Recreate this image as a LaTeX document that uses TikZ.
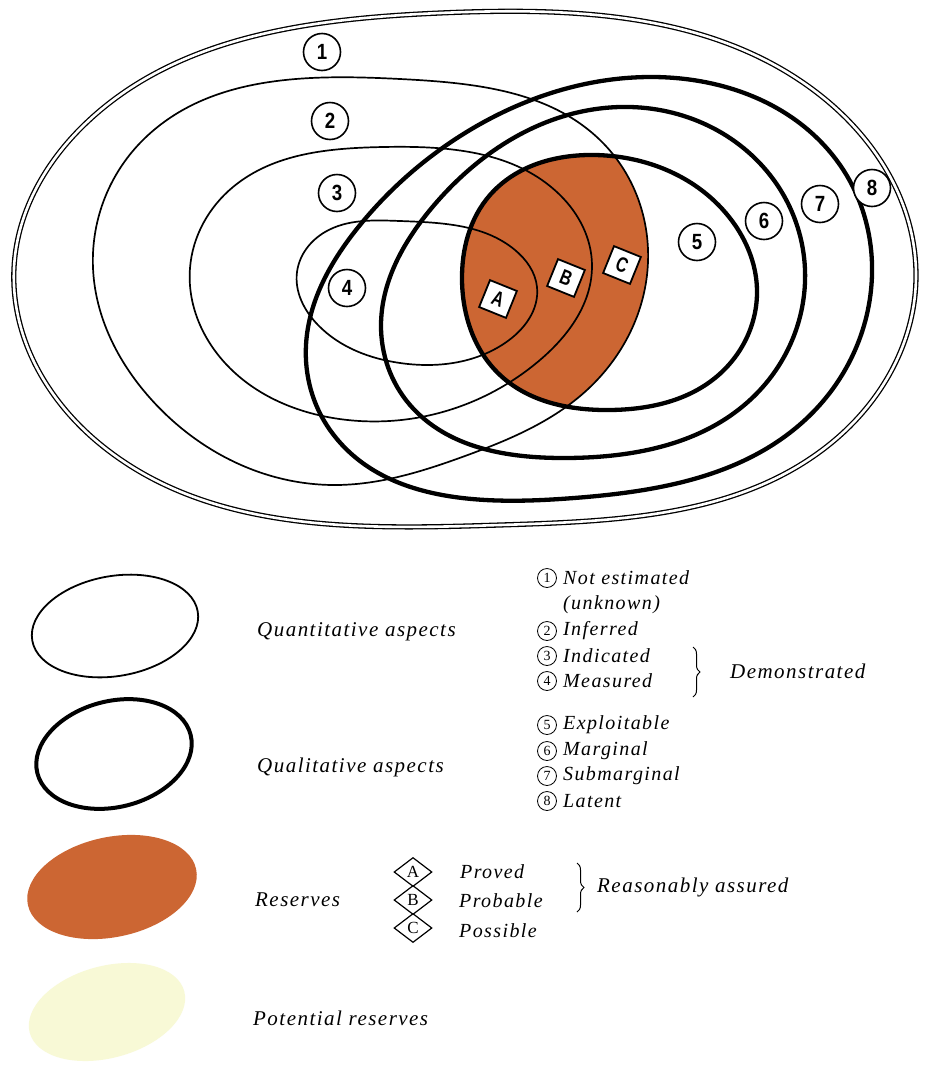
\documentclass[tikz,border=0pt]{standalone}
\usepackage{graphicx}
\usepackage{fontspec}
\setmainfont{Liberation Serif}
\newfontfamily\labfont[LetterSpace=7]{Liberation Serif}
\newfontfamily\digfont{Liberation Sans}
\usetikzlibrary{decorations.pathreplacing,shapes.geometric,hobby}
\definecolor{ore}{HTML}{CC6633}
\definecolor{pale}{HTML}{F8F9D6}
\begin{document}
\begin{tikzpicture}[x=1pt,y=-1pt,
 thinl/.style={line width=1.7pt},
 thickl/.style={line width=4.3pt},
 dbl/.style={double, double distance=2.6pt, line width=1.3pt},
 num/.style={circle, draw, line width=1.6pt, fill=white, minimum size=37pt, inner sep=0pt, font=\digfont\bfseries\fontsize{22}{22}\selectfont},
 sq/.style={draw, line width=1.8pt, fill=white, minimum size=29pt, inner sep=0pt, rotate=-22, font=\digfont\bfseries\fontsize{21}{21}\selectfont},
 lab/.style={anchor=west, font=\labfont\itshape\fontsize{21}{21}\selectfont, inner sep=0pt},
 lst/.style={anchor=west, font=\labfont\itshape\fontsize{20}{20}\selectfont, inner sep=0pt},
 cnum/.style={circle, draw, line width=0.8pt, minimum size=19pt, inner sep=0pt, font=\fontsize{14}{14}\selectfont},
 dia/.style={diamond, draw, line width=1.2pt, minimum width=38pt, minimum height=29pt, inner sep=0pt, font=\fontsize{17}{17}\selectfont},
 brc/.style={decorate, decoration={brace, amplitude=7pt}, line width=1pt}
]
\useasboundingbox (0,0) rectangle (930,1066);
\fill[white] (0,0) rectangle (930,1066);
% reserves region
\begin{scope}
\clip plot[closed hobby] coordinates {(462,280) (490,195) (595,155) (735,225) (757,290) (715,378) (610,410) (500,375)};
\fill[ore] plot[closed hobby] coordinates {(93,268) (145,138) (400,79) (600,140) (648,262) (587,390) (465,456) (333,485) (150,398)};
\end{scope}
% outer double
\draw[dbl] plot[closed hobby] coordinates {(14,268) (80,129) (440,13) (820,95) (916,275) (830,444) (500,525) (100,444)};
% quantitative thin
\draw[thinl] plot[closed hobby] coordinates {(93,268) (145,138) (400,79) (600,140) (648,262) (587,390) (465,456) (333,485) (150,398)};
\draw[thinl] plot[closed hobby] coordinates {(190,268) (233,187) (383,147) (560,195) (592,265) (540,360) (333,418) (225,363)};
\draw[thinl] plot[closed hobby] coordinates {(297,272) (325,232) (400,221) (515,250) (537,287) (505,343) (400,363) (318,325)};
% qualitative thick
\draw[thickl] plot[closed hobby] coordinates {(462,280) (490,195) (595,155) (735,225) (757,290) (715,378) (610,410) (500,375)};
\draw[thickl] plot[closed hobby] coordinates {(381,325) (430,210) (620,107) (770,175) (805,270) (750,400) (565,458) (410,405)};
\draw[thickl] plot[closed hobby] coordinates {(306,345) (360,225) (465,133) (650,77) (840,165) (872,275) (805,420) (560,499) (330,430)};
% number labels
\node[num] (n1) at (322,52) {\scalebox{0.85}[1]{1}};
\node[num] (n2) at (330,121) {\scalebox{0.85}[1]{2}};
\node[num] (n3) at (337,193) {\scalebox{0.85}[1]{3}};
\node[num] (n4) at (347,288) {\scalebox{0.85}[1]{4}};
\node[num] (n5) at (697,242) {\scalebox{0.85}[1]{5}};
\node[num] (n6) at (764,221) {\scalebox{0.85}[1]{6}};
\node[num] (n7) at (820,204) {\scalebox{0.85}[1]{7}};
\node[num] (n8) at (872,188) {\scalebox{0.85}[1]{8}};
\node[sq] (sA) at (498,299) {\scalebox{0.75}[1]{A}};
\node[sq] (sB) at (566,278) {\scalebox{0.75}[1]{B}};
\node[sq] (sC) at (622,265) {\scalebox{0.75}[1]{C}};
% legend shapes
\draw[line width=1.8pt, rotate around={10:(115,626)}] (115,626) ellipse [x radius=84, y radius=50];
\draw[line width=4pt, rotate around={14:(114,754)}] (114,754) ellipse [x radius=79, y radius=53];
\fill[ore, rotate around={12:(112,887)}] (112,887) ellipse [x radius=86, y radius=50];
\fill[pale, rotate around={15:(107,1012)}] (107,1012) ellipse [x radius=80, y radius=46];
% legend labels
\node[lab] (lq) at (257,632) {Quantitative aspects};
\node[lab] (ll) at (257,767) {Qualitative aspects};
\node[lab] (lr) at (255,900) {Reserves};
\node[lab] (lp) at (253,1018) {Potential reserves};
% numbered list
\node[cnum] (c1) at (547,578) {1};
\node[lst] (t1) at (563,578) {Not estimated};
\node[lst] (t1b) at (563,605) {(unknown)};
\node[cnum] (c2) at (547,631) {2};
\node[lst] (t2) at (563,631) {Inferred};
\node[cnum] (c3) at (547,656) {3};
\node[lst] (t3) at (563,656) {Indicated};
\node[cnum] (c4) at (547,681) {4};
\node[lst] (t4) at (563,681) {Measured};
\node[cnum] (c5) at (547,725) {5};
\node[lst] (t5) at (563,725) {Exploitable};
\node[cnum] (c6) at (547,751) {6};
\node[lst] (t6) at (563,751) {Marginal};
\node[cnum] (c7) at (547,776) {7};
\node[lst] (t7) at (563,776) {Submarginal};
\node[cnum] (c8) at (547,801) {8};
\node[lst] (t8) at (563,801) {Latent};
\coordinate (b1t) at (693,647);
\coordinate (b1b) at (693,697);
\draw[brc] (b1t) -- (b1b);
\node[lab] (dem) at (730,671) {Demonstrated};
% reserves list
\node[dia] (dA) at (413,872) {A};
\node[dia] (dB) at (413,900) {B};
\node[dia] (dC) at (413,928) {C};
\node[lst] (pA) at (460,872) {Proved};
\node[lst] (pB) at (459,901) {Probable};
\node[lst] (pC) at (459,931) {Possible};
\coordinate (b2t) at (577,863);
\coordinate (b2b) at (577,912);
\draw[brc] (b2t) -- (b2b);
\node[lab] (ra) at (597,887) {Reasonably assured};
\end{tikzpicture}
\end{document}
